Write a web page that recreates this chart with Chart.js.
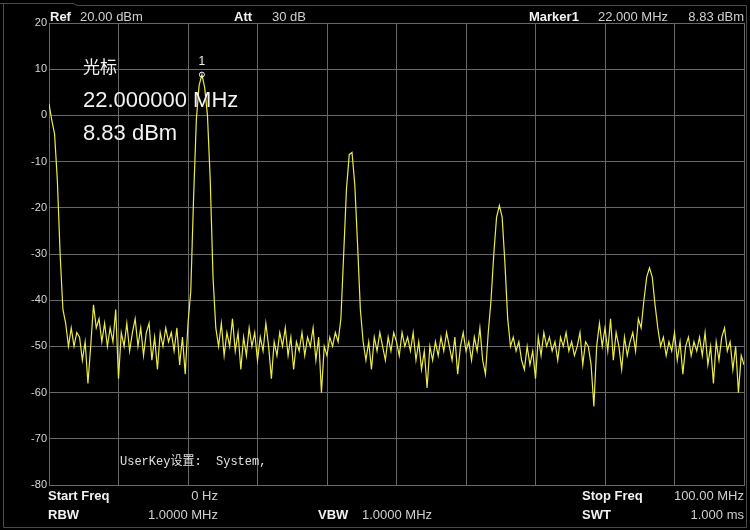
<!DOCTYPE html>
<html>
<head>
<meta charset="utf-8">
<script src="https://cdn.jsdelivr.net/npm/chart.js@4/dist/chart.umd.min.js"></script>
<style>
	html, body { margin:0; padding:0; background:#000; }
	#specChart { display:block; }
</style>
</head>
<body>
<canvas id="specChart" width="750" height="530"></canvas>
<script>
// sweep settings
var startFreq = 0
var stopFreq = 100
var refLevel = 20
var bottomLevel = -80
var levelTicks = [20, 10, 0, -10, -20, -30, -40, -50, -60, -70, -80]

// trace, one value per sweep point (0.4 MHz apart), dBm
var traceDbm = [
	2.5, -1, -4, -14, -30, -42, -45, -50, -46, -50,
	-47, -48, -53, -49, -58, -50, -41, -46, -44, -49,
	-45, -50, -46, -49, -42, -57, -47, -50, -45, -51,
	-47, -44, -50, -46, -52, -47, -45, -53, -48, -55,
	-47, -50, -46, -49, -47, -51, -46, -54, -48, -56,
	-45, -38, -18, -1, 6.5, 8.83, 6, 0, -14, -35,
	-46, -50, -45, -52, -47, -50, -44, -51, -47, -55,
	-48, -52, -46, -50, -47, -53, -48, -51, -45, -50,
	-57, -49, -52, -47, -50, -46, -52, -48, -55, -49,
	-51, -47, -52, -48, -50, -46, -53, -48, -60, -50,
	-52, -48, -50, -47, -49, -44, -30, -16, -8.5, -8,
	-15, -28, -42, -49, -53, -49, -55, -48, -51, -47,
	-50, -53, -48, -51, -47, -49, -52, -47, -50, -48,
	-51, -47, -53, -49, -55, -51, -59, -50, -53, -49,
	-52, -48, -51, -47, -50, -53, -48, -56, -50, -47,
	-51, -49, -53, -48, -51, -46, -53, -56, -47, -40,
	-30, -22, -19.5, -22, -32, -44, -50, -48, -51, -49,
	-53, -55, -50, -54, -51, -57, -48, -52, -47, -50,
	-48, -51, -49, -53, -48, -50, -47, -51, -49, -52,
	-50, -47, -54, -49, -50, -54, -63, -50, -45, -50,
	-46, -51, -44, -53, -47, -50, -55, -48, -52, -49,
	-47, -51, -44, -46, -40, -35, -33, -35, -41, -46,
	-50, -48, -52, -49, -51, -47, -53, -49, -56, -50,
	-48, -52, -49, -51, -48, -52, -47, -54, -50, -58,
	-49, -53, -48, -46, -51, -49, -55, -50, -60, -52,
	-54
]

// marker 1
var markerFreq = 22
var markerDbm = 8.83

function getTracePoints( vals ) {
	var pts = []
	var step = (stopFreq - startFreq) / (vals.length - 1)
	for( var i = 0; i < vals.length; i++ ) {
		pts.push( { x: startFreq + i * step, y: vals[i] } )
	}
	return pts
}

var white = '#f2f2f2'
var grey = '#cfcfcf'
var bold13 = 'bold 13px "Liberation Sans", Arial, sans-serif'
var norm13 = '13px "Liberation Sans", Arial, sans-serif'

var screenText = {
	id: 'screenText',
	afterDraw: function( chart ) {
		var c = chart.ctx
		var ca = chart.chartArea
		c.save()
		// outer bezel
		c.strokeStyle = '#4a4a4a'
		c.lineWidth = 1
		c.beginPath()
		c.moveTo(0, 3.5); c.lineTo(73, 3.5); c.lineTo(78, 5.5); c.lineTo(746.5, 5.5); c.lineTo(746.5, 527.5)
		c.lineTo(3.5, 527.5); c.lineTo(3.5, 3.5)
		c.stroke()

		c.textBaseline = 'middle'
		function txt( s, x, y, font, col, align ) {
			c.font = font
			c.fillStyle = col
			c.textAlign = align || 'left'
			c.fillText( s, x, y )
		}
		// header
		txt( 'Ref', 50, 17, bold13, white )
		txt( '20.00 dBm', 80, 17, norm13, grey )
		txt( 'Att', 234, 17, bold13, white )
		txt( '30 dB', 272, 17, norm13, grey )
		txt( 'Marker1', 529, 17, bold13, white )
		txt( '22.000 MHz', 598, 17, norm13, grey )
		txt( '8.83 dBm', 744, 17, norm13, grey, 'right' )
		// footer
		txt( 'Start Freq', 48, 496, bold13, white )
		txt( '0 Hz', 218, 496, norm13, grey, 'right' )
		txt( 'RBW', 48, 515, bold13, white )
		txt( '1.0000 MHz', 218, 515, norm13, grey, 'right' )
		txt( 'VBW', 318, 515, bold13, white )
		txt( '1.0000 MHz', 362, 515, norm13, grey )
		txt( 'Stop Freq', 582, 496, bold13, white )
		txt( '100.00 MHz', 744, 496, norm13, grey, 'right' )
		txt( 'SWT', 582, 515, bold13, white )
		txt( '1.000 ms', 744, 515, norm13, grey, 'right' )

		// marker readout inside the grid
		txt( '光标', 83, 67, '17px "Noto Sans CJK SC", sans-serif', white )
		txt( '22.000000 MHz', 83, 101, '22px "Liberation Sans", Arial, sans-serif', white )
		txt( '8.83 dBm', 83, 134, '22px "Liberation Sans", Arial, sans-serif', white )
		txt( 'UserKey设置:  System,', 120, 462, '12px "Liberation Mono", "Noto Sans CJK SC", monospace', '#e0e0e0' )

		// marker number above the peak
		var mx = chart.scales.x.getPixelForValue( markerFreq )
		var my = chart.scales.y.getPixelForValue( markerDbm )
		txt( '1', mx, my - 13, '12px "Liberation Sans", Arial, sans-serif', white, 'center' )
		c.restore()
	}
}

function SpecChart() {
	var data = {
		type: 'line',
		data: {
			datasets: [
				{
					label: 'marker',
					data: [ { x: markerFreq, y: markerDbm } ],
					showLine: false,
					pointRadius: 2.5,
					pointBackgroundColor: 'rgba(0,0,0,0)',
					pointBorderColor: '#ffffff',
					pointBorderWidth: 1
				}, {
					label: 'trace',
					data: getTracePoints( traceDbm ),
					borderColor: '#ecec45',
					borderWidth: 1.2,
					pointRadius: 0,
					tension: 0,
					fill: false
				}
			]
		},
		options: {
			responsive: false,
			animation: false,
			devicePixelRatio: 1,
			layout: { padding: { top: 23, right: 6, bottom: 45, left: 0 } },
			plugins: {
				legend: { display: false },
				tooltip: { enabled: false }
			},
			scales: {
				x: {
					type: 'linear',
					min: startFreq,
					max: stopFreq,
					ticks: { stepSize: 10, display: false },
					grid: { color: '#686868', drawTicks: false, lineWidth: 1 },
					border: { color: '#686868' },
					afterFit: function( s ) { s.height = 0 }
				},
				y: {
					min: bottomLevel,
					max: refLevel,
					afterBuildTicks: function( s ) {
						s.ticks = levelTicks.map( function( v ) { return { value: v } } )
					},
					ticks: {
						color: '#d8d8d8',
						padding: 2,
						font: { size: 11, family: '"Liberation Sans", Arial, sans-serif' }
					},
					grid: { color: '#686868', drawTicks: false, lineWidth: 1 },
					border: { color: '#686868' },
					afterFit: function( s ) { s.width = 49 }
				}
			}
		},
		plugins: [ screenText ]
	}
	var ctx = document.getElementById('specChart')
	var myChart = new Chart( ctx, data )
}

SpecChart()
</script>
</body>
</html>
